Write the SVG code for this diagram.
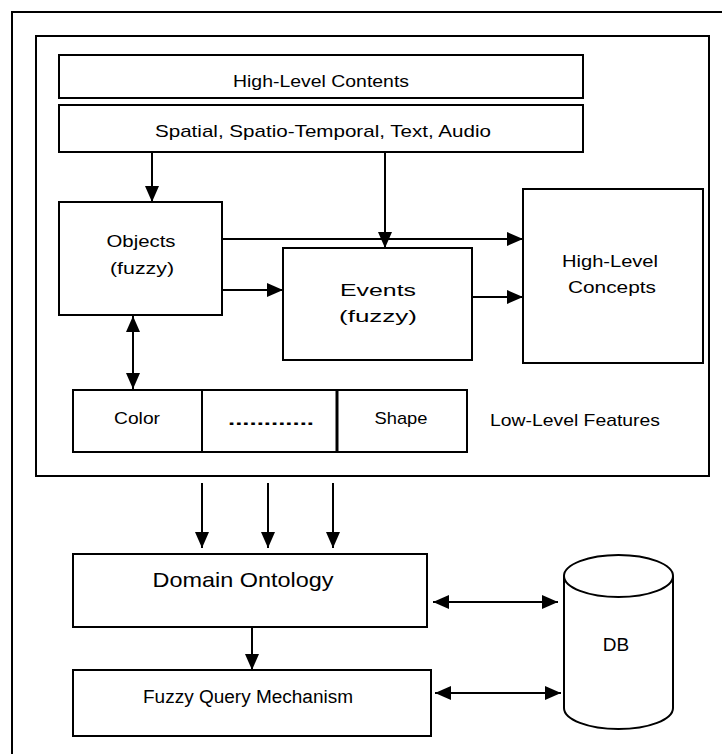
<svg xmlns="http://www.w3.org/2000/svg" width="722" height="754" viewBox="0 0 722 754">
<style>
.box{fill:#fff;stroke:#000;stroke-width:2}
.frame{fill:none;stroke:#000;stroke-width:2}
.ln{fill:none;stroke:#000;stroke-width:2}
text{font-family:"Liberation Sans",Arial,sans-serif;fill:#000}
.t17{font-size:17px}
.c{text-anchor:middle}
</style>
<defs>
<marker id="ah" viewBox="0 0 16 14" refX="16" refY="7" markerWidth="16" markerHeight="14" markerUnits="userSpaceOnUse" orient="auto-start-reverse">
<path d="M0,0 L16,7 L0,14 Z" fill="#000"/>
</marker>
</defs>
<rect width="722" height="754" fill="#fff"/>
<g id="outer-frame"><path class="frame" d="M12,754 V12 H722"/></g>
<g id="inner-frame"><rect class="frame" x="36" y="36" width="673" height="440"/></g>
<g id="high-level-contents"><rect class="box" x="59" y="55" width="524" height="43"/><text class="t17 c" x="321" y="87" textLength="176" lengthAdjust="spacingAndGlyphs">High-Level Contents</text></g>
<g id="spatial"><rect class="box" x="59" y="105" width="524" height="47"/><text class="t17 c" x="323" y="137" textLength="336" lengthAdjust="spacingAndGlyphs">Spatial, Spatio-Temporal, Text, Audio</text></g>
<g id="objects"><rect class="box" x="59" y="202" width="163" height="113"/><text class="t17 c" x="141" y="247" textLength="69" lengthAdjust="spacingAndGlyphs">Objects</text><text class="t17 c" x="142" y="274" textLength="64" lengthAdjust="spacingAndGlyphs">(fuzzy)</text></g>
<g id="events"><rect class="box" x="283" y="248" width="189" height="112"/><text class="t17 c" x="378" y="296" textLength="76" lengthAdjust="spacingAndGlyphs">Events</text><text class="t17 c" x="378" y="322" textLength="78" lengthAdjust="spacingAndGlyphs">(fuzzy)</text></g>
<g id="high-level-concepts"><rect class="box" x="523" y="189" width="180" height="174"/><text class="t17 c" x="610" y="267" textLength="96" lengthAdjust="spacingAndGlyphs">High-Level</text><text class="t17 c" x="612" y="293" textLength="88" lengthAdjust="spacingAndGlyphs">Concepts</text></g>
<g id="low-level-features"><rect class="box" x="73" y="390" width="394" height="62"/><line class="ln" x1="202" y1="390" x2="202" y2="452"/><line x1="337" y1="390" x2="337" y2="452" stroke="#000" stroke-width="3"/><text class="t17 c" x="137" y="424" textLength="46" lengthAdjust="spacingAndGlyphs">Color</text><text x="271" y="425" class="c" style="font-size:17px;font-weight:bold" textLength="86" lengthAdjust="spacingAndGlyphs">............</text><text class="t17 c" x="401" y="424" textLength="53" lengthAdjust="spacingAndGlyphs">Shape</text><text class="t17" x="490" y="426" textLength="170" lengthAdjust="spacingAndGlyphs">Low-Level Features</text></g>
<g id="domain-ontology"><rect class="box" x="73" y="554" width="354" height="73"/><text class="c" style="font-size:21px" x="243" y="587" textLength="181" lengthAdjust="spacingAndGlyphs">Domain Ontology</text></g>
<g id="fuzzy-query"><rect class="box" x="73" y="670" width="358" height="66"/><text class="c" style="font-size:18px" x="248" y="703" textLength="210" lengthAdjust="spacingAndGlyphs">Fuzzy Query Mechanism</text></g>
<g id="db"><path class="box" d="M564,576 V708 A54.5,21 0 0 0 673,708 V576"/><ellipse class="box" cx="618.5" cy="576" rx="54.5" ry="21"/><text x="616" y="651" class="c" style="font-size:19px">DB</text></g>
<g id="connectors">
<line class="ln" x1="152" y1="152" x2="152" y2="202" marker-end="url(#ah)"/>
<line class="ln" x1="385" y1="152" x2="385" y2="248" marker-end="url(#ah)"/>
<line class="ln" x1="222" y1="239" x2="523" y2="239" marker-end="url(#ah)"/>
<line class="ln" x1="222" y1="290" x2="283" y2="290" marker-end="url(#ah)"/>
<line class="ln" x1="472" y1="297" x2="523" y2="297" marker-end="url(#ah)"/>
<line class="ln" x1="133" y1="316" x2="133" y2="389" marker-start="url(#ah)" marker-end="url(#ah)"/>
<line class="ln" x1="202" y1="483" x2="202" y2="548" marker-end="url(#ah)"/>
<line class="ln" x1="268" y1="483" x2="268" y2="548" marker-end="url(#ah)"/>
<line class="ln" x1="333" y1="483" x2="333" y2="548" marker-end="url(#ah)"/>
<line class="ln" x1="252" y1="627" x2="252" y2="670" marker-end="url(#ah)"/>
<line class="ln" x1="433" y1="602" x2="558" y2="602" marker-start="url(#ah)" marker-end="url(#ah)"/>
<line class="ln" x1="435" y1="693" x2="561" y2="693" marker-start="url(#ah)" marker-end="url(#ah)"/>
</g>
</svg>
